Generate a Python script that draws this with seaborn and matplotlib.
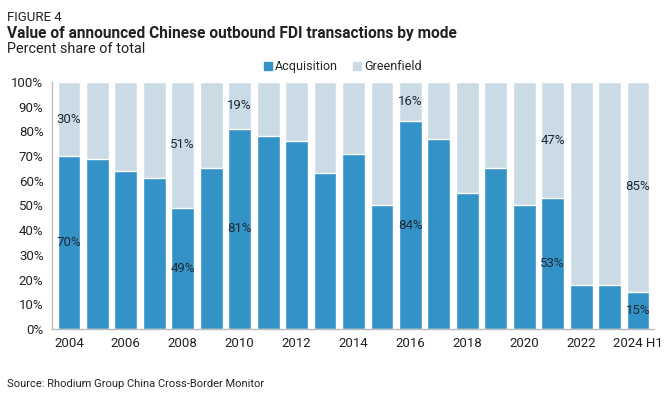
import matplotlib
matplotlib.use("Agg")
import matplotlib.pyplot as plt
import numpy as np
import pandas as pd
import seaborn as sns
from matplotlib.patches import Patch

years = ["2004", "2005", "2006", "2007", "2008", "2009", "2010", "2011", "2012", "2013",
         "2014", "2015", "2016", "2017", "2018", "2019", "2020", "2021", "2022", "2023", "2024 H1"]
acquisition = [70, 69, 64, 61, 49, 65, 81, 78, 76, 63,
               71, 50, 84, 77, 55, 65, 50, 53, 18, 18, 15]
greenfield = [100 - a for a in acquisition]
# which bars carry value labels
labelled = ["2004", "2008", "2010", "2016", "2021", "2024 H1"]

df = pd.DataFrame({"year": years, "Acquisition": acquisition, "Greenfield": greenfield})
df["total"] = df["Acquisition"] + df["Greenfield"]

blue = "#3393c6"
light = "#cbdbe5"

sns.set_theme(style="white")
plt.rcParams["font.family"] = ["Roboto", "DejaVu Sans"]

fig = plt.figure(figsize=(6.65, 3.94), dpi=100)
ax = fig.add_axes([0.078, 0.165, 0.905, 0.627])

sns.barplot(data=df, x="year", y="total", color=light, width=0.8, saturation=1, ax=ax)
sns.barplot(data=df, x="year", y="Acquisition", color=blue, width=0.8, saturation=1, ax=ax)

for i, row in df.iterrows():
    if row["year"] in labelled:
        a, g = row["Acquisition"], row["Greenfield"]
        ax.text(i, a / 2, f"{a}%", ha="center", va="center", fontsize=9.5, color="#1e2a36")
        ax.text(i, a + g / 2, f"{g}%", ha="center", va="center", fontsize=9.5, color="#1e2a36")

ax.set_ylim(0, 100)
ax.set_xlim(-0.6, len(years) - 0.45)
ax.set_yticks(np.arange(0, 101, 10))
ax.set_yticklabels([f"{v}%" for v in range(0, 101, 10)], fontsize=9.5, color="#222222")
ax.set_xticks(range(0, len(years), 2))
ax.set_xticklabels(years[::2][:-1] + ["2024 H1"], fontsize=9.5, color="#222222")
ax.tick_params(axis="both", length=0, pad=6)
ax.set_xlabel("")
ax.set_ylabel("")
for s in ["top", "right"]:
    ax.spines[s].set_visible(False)
for s in ["left", "bottom"]:
    ax.spines[s].set_color("#bbbbbb")
    ax.spines[s].set_linewidth(1)

handles = [Patch(color=blue, label="Acquisition"), Patch(color=light, label="Greenfield")]
fig.legend(handles=handles, loc="center", bbox_to_anchor=(0.516, 0.83), ncol=2, frameon=False,
           fontsize=9, handlelength=0.6, handleheight=0.6, handletextpad=0.3, columnspacing=1.2)

fig.text(0.011, 0.955, "FIGURE 4", fontsize=9.5, color="#222222", va="center")
fig.text(0.011, 0.915, "Value of announced Chinese outbound FDI transactions by mode",
         fontsize=11.2, fontweight="bold", color="#222222", va="center")
fig.text(0.011, 0.875, "Percent share of total", fontsize=10.4, color="#222222", va="center")
fig.text(0.011, 0.025, "Source: Rhodium Group China Cross-Border Monitor", fontsize=8, color="#222222", va="center")

fig.savefig("out.png", dpi=100, facecolor="white")
